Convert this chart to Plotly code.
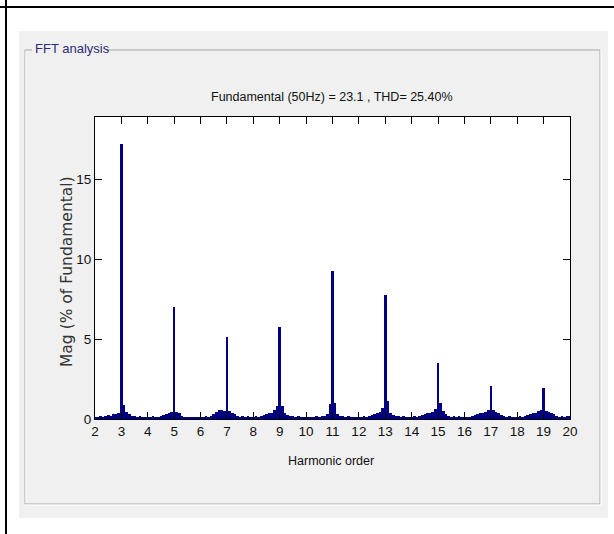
import plotly.graph_objects as go

# Harmonic spectrum, 0.1-harmonic resolution, one list per harmonic order interval [n, n+0.9]
h02 = [0.10, 0.15, 0.20, 0.15, 0.20, 0.25, 0.20, 0.30, 0.30, 0.35]
h03 = [17.20, 0.85, 0.45, 0.30, 0.20, 0.20, 0.15, 0.20, 0.15, 0.15]
h04 = [0.15, 0.15, 0.20, 0.15, 0.10, 0.20, 0.25, 0.30, 0.35, 0.45]
h05 = [6.98, 0.45, 0.40, 0.20, 0.15, 0.10, 0.15, 0.10, 0.10, 0.15]
h06 = [0.10, 0.15, 0.20, 0.15, 0.20, 0.30, 0.45, 0.55, 0.55, 0.50]
h07 = [5.12, 0.50, 0.40, 0.30, 0.20, 0.15, 0.20, 0.15, 0.20, 0.15]
h08 = [0.15, 0.20, 0.15, 0.20, 0.25, 0.30, 0.35, 0.40, 0.55, 0.80]
h09 = [5.75, 0.80, 0.40, 0.25, 0.20, 0.20, 0.15, 0.20, 0.15, 0.10]
h10 = [0.10, 0.15, 0.10, 0.15, 0.20, 0.15, 0.20, 0.20, 0.30, 0.95]
h11 = [9.22, 1.00, 0.30, 0.20, 0.20, 0.15, 0.20, 0.15, 0.15, 0.10]
h12 = [0.10, 0.15, 0.20, 0.15, 0.20, 0.25, 0.30, 0.35, 0.45, 0.70]
h13 = [7.77, 1.10, 0.40, 0.25, 0.20, 0.20, 0.15, 0.20, 0.15, 0.10]
h14 = [0.15, 0.20, 0.15, 0.20, 0.25, 0.30, 0.35, 0.40, 0.45, 0.60]
h15 = [3.50, 1.00, 0.50, 0.30, 0.20, 0.15, 0.20, 0.15, 0.20, 0.15]
h16 = [0.15, 0.10, 0.15, 0.20, 0.25, 0.30, 0.35, 0.40, 0.45, 0.55]
h17 = [2.04, 0.55, 0.45, 0.35, 0.25, 0.20, 0.15, 0.20, 0.15, 0.15]
h18 = [0.15, 0.20, 0.15, 0.20, 0.25, 0.30, 0.35, 0.40, 0.50, 0.55]
h19 = [1.94, 0.50, 0.45, 0.40, 0.30, 0.20, 0.15, 0.20, 0.15, 0.20]
h20 = [0.20]

segments = [h02, h03, h04, h05, h06, h07, h08, h09, h10, h11,
            h12, h13, h14, h15, h16, h17, h18, h19, h20]
start_orders = list(range(2, 21))
resolution = 0.1

x_ticks = list(range(2, 21))
y_ticks = [0, 5, 10, 15]

title_text = "Fundamental (50Hz) = 23.1 , THD= 25.40%"
x_title = "Harmonic order"
y_title = "Mag (% of Fundamental)"
panel_title = "FFT analysis"

orders, mags = [], []
for n, seg in zip(start_orders, segments):
    for i, v in enumerate(seg):
        orders.append(round(n + i * resolution, 2))
        mags.append(v)

W, H = 614, 534
L, R, T, B = 95, 570, 117, 419
pw, ph = R - L, B - T

def px(x):
    return (x - L) / pw

def py(y):
    return (B - y) / ph

sans = "Liberation Sans, Arial, sans-serif"

fig = go.Figure()
fig.add_trace(go.Bar(x=orders, y=mags, width=resolution,
                     marker=dict(color="#000080", line=dict(width=0)),
                     showlegend=False))

shapes = []
# grey panel
shapes.append(dict(type="rect", xref="paper", yref="paper", layer="below",
                   x0=px(19), x1=px(608), y0=py(31), y1=py(518),
                   fillcolor="#f0f0f0", line=dict(width=0)))
# white plot area
shapes.append(dict(type="rect", xref="paper", yref="paper", layer="below",
                   x0=0, x1=1, y0=0, y1=1, fillcolor="white", line=dict(width=0)))
# groupbox lines
gb = "#a9a9a9"
for (x0, y0, x1, y1) in [(25, 50, 32, 50), (106, 50, 600, 50), (25, 50, 25, 504),
                         (600, 50, 600, 504), (25, 504, 600, 504)]:
    shapes.append(dict(type="line", xref="paper", yref="paper", layer="below",
                       x0=px(x0), x1=px(x1), y0=py(y0), y1=py(y1),
                       line=dict(color=gb, width=1)))
for (x0, y0, x1, y1) in [(26, 51, 26, 503), (601, 50, 601, 505), (25, 505, 601, 505)]:
    shapes.append(dict(type="line", xref="paper", yref="paper", layer="below",
                       x0=px(x0), x1=px(x1), y0=py(y0), y1=py(y1),
                       line=dict(color="white", width=1)))
# black page lines
shapes.append(dict(type="line", xref="paper", yref="paper", x0=px(0), x1=px(614),
                   y0=py(7), y1=py(7), line=dict(color="black", width=2)))
shapes.append(dict(type="line", xref="paper", yref="paper", x0=px(6), x1=px(6),
                   y0=py(0), y1=py(534), line=dict(color="black", width=2)))

annotations = [
    dict(text=title_text, xref="paper", yref="paper", x=px(332), y=py(97),
         showarrow=False, font=dict(family=sans, size=12.5, color="#111"),
         xanchor="center", yanchor="middle"),
    dict(text=x_title, xref="paper", yref="paper", x=px(331), y=py(461),
         showarrow=False, font=dict(family=sans, size=12.5, color="#111"),
         xanchor="center", yanchor="middle"),
    dict(text=y_title, xref="paper", yref="paper", x=px(67), y=py(272),
         showarrow=False, textangle=-90,
         font=dict(family="DejaVu Sans, sans-serif", size=15.5, color="#333"),
         xanchor="center", yanchor="middle"),
    dict(text=panel_title, xref="paper", yref="paper", x=px(33), y=py(49),
         showarrow=False, font=dict(family=sans, size=13, color="#2b2b7a"),
         xanchor="left", yanchor="middle"),
]

fig.update_layout(
    width=W, height=H,
    margin=dict(l=L, r=W - R, t=T, b=H - B, pad=0),
    paper_bgcolor="white", plot_bgcolor="rgba(0,0,0,0)",
    bargap=0, shapes=shapes, annotations=annotations,
    xaxis=dict(range=[2, 20], tickmode="array", tickvals=x_ticks,
               ticks="inside", ticklen=7, tickcolor="black", tickwidth=1,
               showline=True, linecolor="black", linewidth=1, mirror="ticks",
               showgrid=False, zeroline=False,
               tickfont=dict(family=sans, size=13.5, color="#111")),
    yaxis=dict(range=[0, 18.875], tickmode="array", tickvals=y_ticks,
               ticks="inside", ticklen=7, tickcolor="black", tickwidth=1,
               showline=True, linecolor="black", linewidth=1, mirror="ticks",
               showgrid=False, zeroline=False,
               tickfont=dict(family=sans, size=13.5, color="#111")),
)

fig.write_html("out.html", config={"displayModeBar": False},
               post_script="document.body.style.margin='0';document.body.style.overflow='hidden';")
